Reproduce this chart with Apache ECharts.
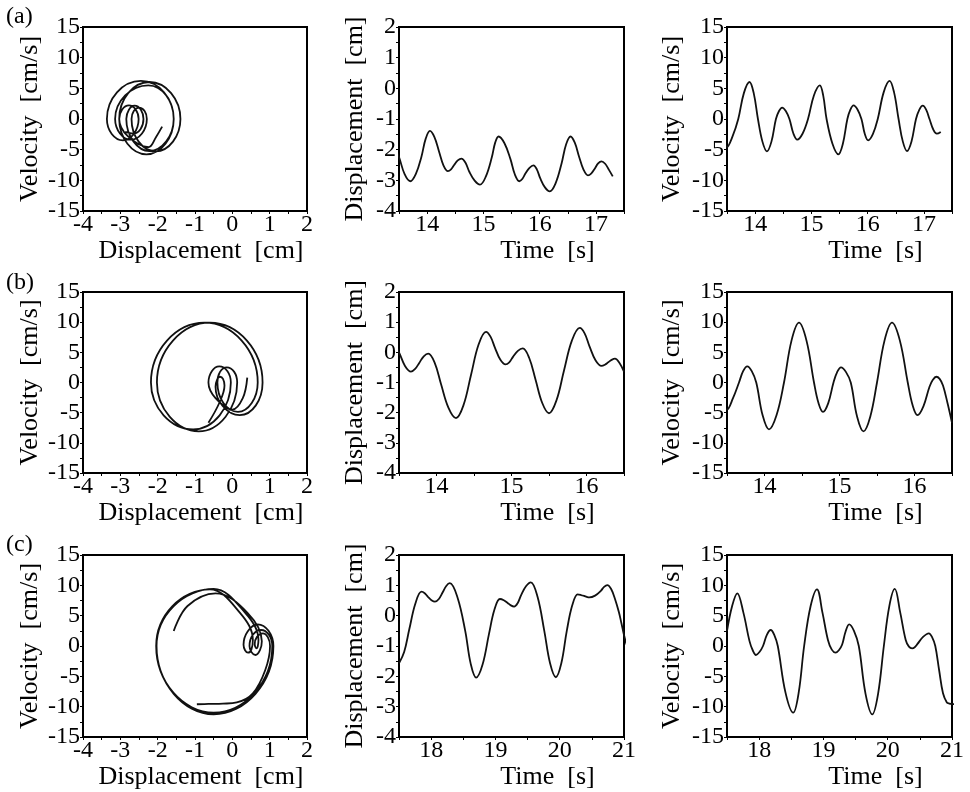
<!DOCTYPE html>
<html>
<head>
<meta charset="utf-8">
<script type="text/javascript" src="https://cdn.jsdelivr.net/npm/echarts@6/dist/echarts.min.js"></script>
<style>body{margin:0;background:#fff;}</style>
</head>
<body>
<div id="main" style="width:970px;height:792px;"></div>
<script type="text/javascript">
// row (a): time [s], displacement [cm], velocity [cm/s]
var timeA = [13.40, 13.45, 13.50, 13.60, 13.70, 13.80, 13.90, 13.975, 14.05, 14.13, 14.21, 14.29, 14.37, 14.425, 14.48, 14.545, 14.61, 14.68, 14.75, 14.845, 14.94, 15.045, 15.15, 15.21, 15.27, 15.375, 15.48, 15.56, 15.64, 15.695, 15.75, 15.82, 15.89, 15.95, 16.01, 16.095, 16.18, 16.285, 16.39, 16.47, 16.55, 16.625, 16.70, 16.78, 16.86, 16.92, 16.98, 17.04, 17.10, 17.165, 17.23, 17.30];
var dispA = [-1.88, -2.05, -2.24, -2.80, -3.03, -2.79, -2.22, -1.64, -1.39, -1.59, -2.05, -2.51, -2.70, -2.64, -2.50, -2.35, -2.29, -2.42, -2.72, -3.01, -3.14, -2.87, -2.25, -1.77, -1.57, -1.79, -2.30, -2.81, -3.03, -2.95, -2.77, -2.59, -2.51, -2.64, -2.93, -3.23, -3.36, -3.09, -2.45, -1.83, -1.57, -1.77, -2.22, -2.65, -2.84, -2.77, -2.62, -2.45, -2.38, -2.46, -2.65, -2.87];
var velA = [-1.25, -3.00, -4.57, -2.80, 0, 4.22, 6.03, 4.22, 0, -3.69, -5.27, -3.69, 0, 1.30, 1.85, 1.30, 0, -2.36, -3.37, -2.36, 0, 3.84, 5.49, 3.84, 0, -4.03, -5.76, -4.03, 0, 1.56, 2.23, 1.56, 0, -2.44, -3.48, -2.44, 0, 4.34, 6.20, 4.34, 0, -3.65, -5.22, -3.65, 0, 1.52, 2.17, 1.52, 0, -1.67, -2.39, -2.10];

// row (b)
var timeB = [13.35, 13.43, 13.50, 13.58, 13.66, 13.715, 13.77, 13.83, 13.89, 13.975, 14.06, 14.16, 14.26, 14.36, 14.46, 14.56, 14.66, 14.72, 14.78, 14.85, 14.92, 14.97, 15.02, 15.085, 15.15, 15.235, 15.32, 15.41, 15.50, 15.60, 15.70, 15.805, 15.91, 15.975, 16.04, 16.12, 16.20, 16.245, 16.29, 16.335, 16.38, 16.44, 16.50];
var dispB = [0.40, 0.28, 0.00, -0.45, -0.64, -0.55, -0.35, -0.13, -0.04, -0.34, -1.05, -1.84, -2.18, -1.75, -0.75, 0.25, 0.68, 0.52, 0.15, -0.24, -0.40, -0.33, -0.15, 0.05, 0.13, -0.18, -0.90, -1.68, -2.02, -1.59, -0.60, 0.39, 0.81, 0.63, 0.20, -0.26, -0.45, -0.41, -0.33, -0.25, -0.21, -0.35, -0.64];
var velB = [0.80, -2.60, -4.50, -2.60, 0, 1.88, 2.68, 1.88, 0, -5.44, -7.77, -5.44, 0, 6.94, 9.91, 6.94, 0, -3.41, -4.87, -3.41, 0, 1.76, 2.52, 1.76, 0, -5.67, -8.10, -5.67, 0, 6.94, 9.91, 6.94, 0, -3.79, -5.42, -3.90, -0.70, 0.45, 0.95, 0.60, -0.50, -3.40, -6.67];

// row (c)
var timeC = [17.50, 17.58, 17.66, 17.755, 17.85, 17.90, 17.95, 18.005, 18.06, 18.12, 18.18, 18.235, 18.29, 18.41, 18.53, 18.615, 18.70, 18.80, 18.90, 18.985, 19.07, 19.13, 19.19, 19.24, 19.29, 19.345, 19.40, 19.475, 19.55, 19.655, 19.76, 19.85, 19.94, 20.025, 20.11, 20.195, 20.28, 20.33, 20.38, 20.42, 20.46, 20.55, 20.64, 20.69, 20.74, 20.80, 20.86, 20.92, 20.96, 21.00, 21.04];
var dispC = [-1.57, -1.20, -0.45, 0.40, 0.79, 0.74, 0.62, 0.51, 0.46, 0.55, 0.77, 0.98, 1.07, 0.60, -0.50, -1.58, -2.04, -1.61, -0.60, 0.20, 0.55, 0.51, 0.42, 0.34, 0.30, 0.41, 0.68, 0.97, 1.10, 0.62, -0.50, -1.57, -2.03, -1.57, -0.50, 0.34, 0.70, 0.68, 0.65, 0.62, 0.60, 0.66, 0.82, 0.95, 1.01, 0.88, 0.55, 0.12, -0.25, -0.64, -0.95];
var velC = [2.47, 6.60, 8.68, 5.50, 0.80, -0.70, -1.48, -1.00, 0, 1.85, 2.64, 1.85, 0, -7.69, -10.99, -7.69, 0, 6.54, 9.34, 5.50, 1.00, -0.60, -1.10, -0.70, 0.20, 2.40, 3.57, 2.50, 0, -7.88, -11.26, -7.88, 0, 6.58, 9.40, 5.50, 1.00, -0.10, -0.38, -0.20, 0.30, 1.50, 2.09, 1.46, 0, -4.00, -7.80, -9.30, -9.50, -9.55, -9.60];

var rowLabels = ['(a)', '(b)', '(c)'];
var timeRanges = [[13.5, 17.5], [13.5, 16.5], [17.5, 21]];

var rows = [
    {t: timeA, d: dispA, v: velA},
    {t: timeB, d: dispB, v: velB},
    {t: timeC, d: dispC, v: velC}
];

// layout in px
var rowTop = [27, 292, 555];
var rowHeight = [184, 181, 182];
var colLeft = [83, 399, 727];
var colWidth = [224, 225, 225];
var labelTop = [17, 283, 545];

var FONT = "'Liberation Serif', 'Times New Roman', serif";
var INK = '#000';
var TICK_SIZE = 24, NAME_SIZE = 26;

var myChart = echarts.init(document.getElementById('main'));

function axisBase(extra) {
    var a = {
        type: 'value',
        axisLine: {show: true, onZero: false, lineStyle: {color: INK, width: 2}},
        axisTick: {show: true, inside: false, length: 3, lineStyle: {color: INK, width: 1}},
        minorTick: {show: false},
        splitLine: {show: false},
        nameLocation: 'middle',
        nameTextStyle: {color: INK, fontFamily: FONT, fontSize: NAME_SIZE}
    };
    for (var k in extra) a[k] = extra[k];
    return a;
}

function tickLabels(margin, formatter) {
    var l = {color: INK, fontFamily: FONT, fontSize: TICK_SIZE, margin: margin,
             showMinLabel: true, showMaxLabel: true};
    if (formatter) l.formatter = formatter;
    return l;
}

var minor = {show: true, splitNumber: 2, length: 3, lineStyle: {color: INK, width: 1}};
var grids = [], xAxes = [], yAxes = [], series = [];
var halfLabel = function (v) { return Number.isInteger(v) ? String(v) : ''; };

for (var r = 0; r < 3; r++) {
    for (var c = 0; c < 3; c++) {
        var gi = r * 3 + c;
        grids.push({
            left: colLeft[c], top: rowTop[r], width: colWidth[c], height: rowHeight[r],
            show: true, borderColor: INK, borderWidth: 2, containLabel: false
        });
        var row = rows[r];
        var pts = [];
        if (c === 0) {
            xAxes.push(axisBase({
                gridIndex: gi, min: -4, max: 2, interval: 1, minorTick: minor,
                axisLabel: tickLabels(2),
                name: 'Displacement  [cm]', nameGap: 21,
                nameTextStyle: {color: INK, fontFamily: FONT, fontSize: NAME_SIZE, padding: [0, 0, 0, 12]}
            }));
            yAxes.push(axisBase({
                gridIndex: gi, min: -15, max: 15, interval: 5, minorTick: minor,
                axisLabel: tickLabels(3),
                name: 'Velocity  [cm/s]', nameGap: 40
            }));
            for (var i = 0; i < row.t.length; i++) pts.push([row.d[i], row.v[i]]);
        } else {
            xAxes.push(axisBase({
                gridIndex: gi, min: timeRanges[r][0], max: timeRanges[r][1], interval: 0.5,
                axisLabel: tickLabels(2, halfLabel),
                name: 'Time  [s]', nameGap: 21,
                nameTextStyle: {color: INK, fontFamily: FONT, fontSize: NAME_SIZE, padding: [0, 0, 0, 72]}
            }));
            if (c === 1) {
                yAxes.push(axisBase({
                    gridIndex: gi, min: -4, max: 2, interval: 1, minorTick: minor,
                    axisLabel: tickLabels(3),
                    name: 'Displacement  [cm]', nameGap: 31
                }));
                for (var j = 0; j < row.t.length; j++) pts.push([row.t[j], row.d[j]]);
            } else {
                yAxes.push(axisBase({
                    gridIndex: gi, min: -15, max: 15, interval: 5, minorTick: minor,
                    axisLabel: tickLabels(3),
                    name: 'Velocity  [cm/s]', nameGap: 42
                }));
                for (var m = 0; m < row.t.length; m++) pts.push([row.t[m], row.v[m]]);
            }
        }
        series.push({
            type: 'line', xAxisIndex: gi, yAxisIndex: gi,
            data: pts, smooth: 0.38, showSymbol: false, clip: true,
            lineStyle: {color: '#111', width: 1.8}
        });
    }
}

var labels = rowLabels.map(function (txt, k) {
    return {
        type: 'text', left: 6, top: labelTop[k] - 12,
        style: {text: txt, fill: INK, font: '24px ' + FONT}
    };
});

myChart.setOption({
    animation: false,
    backgroundColor: '#fff',
    grid: grids,
    xAxis: xAxes,
    yAxis: yAxes,
    series: series,
    graphic: labels
});
</script>
</body>
</html>
